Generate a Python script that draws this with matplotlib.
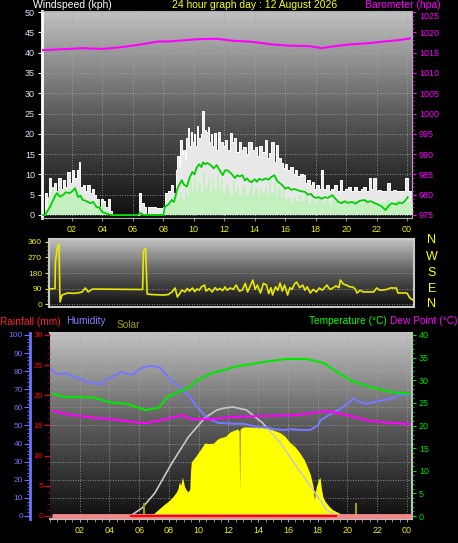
import numpy as np
import matplotlib.pyplot as plt
from matplotlib.colors import LinearSegmentedColormap
from matplotlib.ticker import MultipleLocator

plt.rcParams['font.family'] = ['Liberation Sans', 'DejaVu Sans']

# ---------------- data ----------------
hour_ticks = list(range(2, 25, 2))
hour_labels = ['02', '04', '06', '08', '10', '12', '14', '16', '18', '20', '22', '00']

# barometer (hPa)
baro_h = [0.05, 1.7, 2.7, 4.0, 5.15, 6.5, 7.6, 8.6, 9.55, 10.2, 11.5, 12.6, 13.7, 15.2, 16.3, 17.6, 18.4, 19.1, 20.2, 21.4, 22.4, 23.5, 24.2]
baro = [1015.6, 1015.9, 1016.1, 1015.9, 1016.3, 1017.0, 1017.7, 1017.8, 1018.1, 1018.3, 1018.4, 1017.9, 1017.7, 1017.0, 1016.7, 1016.6, 1016.1, 1016.5, 1017.0, 1017.3, 1017.7, 1018.1, 1018.5]

# wind gust (kph)
gust_h = [0.0, 0.2, 0.35, 0.5, 0.65, 0.8, 0.95, 1.1, 1.25, 1.4, 1.55, 1.7, 1.85, 2.0, 2.15, 2.3, 2.45, 2.55, 2.7, 2.85,
          3.0, 3.15, 3.3, 3.45, 3.6, 3.75, 3.9, 4.05, 4.2, 4.35, 4.5, 4.6, 6.3, 6.4, 6.55, 6.7, 6.85, 7.0, 7.5, 8.0,
          8.1, 8.3, 8.5, 8.65, 8.8, 8.9, 9.0, 9.1, 9.2, 9.3, 9.4, 9.5, 9.6, 9.7, 9.8, 9.9, 10.0, 10.1, 10.2, 10.3,
          10.45, 10.55, 10.65, 10.8, 10.9, 11.0, 11.1, 11.2, 11.3, 11.45, 11.6, 11.75, 11.9, 12.05, 12.2, 12.35, 12.5, 12.65, 12.8, 12.95,
          13.1, 13.25, 13.4, 13.55, 13.7, 13.85, 14.0, 14.15, 14.3, 14.5, 14.65, 14.8, 14.95, 15.1, 15.25, 15.4, 15.55, 15.7, 15.85, 16.0,
          16.15, 16.3, 16.5, 16.65, 16.8, 17.0, 17.15, 17.3, 17.45, 17.6, 17.75, 17.9, 18.05, 18.2, 18.35, 18.5, 18.7, 18.85, 19.0, 19.2,
          19.4, 19.6, 19.75, 19.95, 20.15, 20.35, 20.55, 20.75, 20.95, 21.1, 21.3, 21.5, 21.65, 21.8, 21.95, 22.1, 22.3, 22.5, 22.7, 22.9,
          23.1, 23.3, 23.5, 23.7, 23.9, 24.05, 24.4]
gust = [0, 5.5, 1, 9.2, 6, 8, 5.5, 9, 6.5, 8.5, 7, 10.5, 8, 11, 9, 11, 13, 7, 7.5, 6,
        7.5, 5.5, 6.5, 5, 4, 2, 4, 3.5, 2, 4, 1, 0, 0, 5.5, 3, 2, 0.3, 2, 1.8, 2,
        5.5, 6, 7.5, 5.5, 11, 14.5, 12, 18.5, 15, 16, 14, 19, 21.5, 17, 20.5, 18, 20, 17, 22, 19,
        20, 25.5, 21, 20.5, 21.7, 18, 20, 17, 20.2, 16, 20.4, 18, 17, 18.5, 16, 20.2, 18, 19, 15.5, 18,
        16, 16.8, 15, 18, 18, 16, 16.8, 14.5, 17, 15.5, 18.5, 14, 15.3, 18, 13, 17.2, 14, 12.8, 11.5, 12.5,
        11, 11.8, 10, 11, 9.5, 10, 9.8, 8, 8.5, 7.5, 8.1, 6.5, 7.5, 6.5, 11, 6.5, 7.4, 6, 6.5, 7.4,
        6, 8.6, 6, 6.5, 7, 5.8, 7, 5.8, 6.5, 7, 6, 9.1, 6.5, 9.1, 6, 6.2, 5.8, 6, 7.9, 6,
        6.2, 5.8, 6, 5.8, 9.1, 5.8, 5.8]

# wind speed (kph)
speed_h = [0.0, 0.2, 0.4, 0.55, 0.7, 0.85, 1.0, 1.15, 1.3, 1.45, 1.6, 1.75, 1.9, 2.05, 2.2, 2.35, 2.5, 2.65, 2.8, 2.95,
           3.1, 3.25, 3.4, 3.55, 3.7, 3.85, 4.0, 4.15, 4.3, 4.45, 6.4, 6.55, 8.1, 8.2, 8.35, 8.5, 8.65, 8.8, 8.95, 9.1,
           9.25, 9.4, 9.55, 9.7, 9.85, 10.0, 10.15, 10.3, 10.45, 10.6, 10.75, 10.9, 11.05, 11.2, 11.35, 11.5, 11.65, 11.8, 11.95, 12.1,
           12.25, 12.4, 12.55, 12.7, 12.85, 13.0, 13.15, 13.3, 13.45, 13.6, 13.75, 13.9, 14.05, 14.2, 14.35, 14.5, 14.65, 14.8, 14.95, 15.1,
           15.25, 15.4, 15.55, 15.7, 15.85, 16.0, 16.2, 16.35, 16.5, 16.7, 16.9, 17.1, 17.3, 17.5, 17.7, 17.9, 18.1, 18.3, 18.5, 18.7,
           18.9, 19.1, 19.3, 19.5, 19.7, 19.9, 20.1, 20.3, 20.5, 20.7, 20.9, 21.1, 21.3, 21.5, 21.7, 21.9, 22.1, 22.3, 22.5, 22.7,
           22.9, 23.1, 23.3, 23.5, 23.7, 23.9, 24.05, 24.4]
speed = [0, 1.2, 4.5, 2, 7, 4.5, 6, 7, 5, 6.5, 5.7, 6.5, 5, 6.6, 5, 6, 4.9, 3, 2.9, 3.7,
         1.5, 3.7, 2, 1.7, 3.7, 2, 3, 0.5, 1, 0, 1.2, 0, 1, 2, 3, 4.4, 3, 6.6, 4, 5.7,
         4, 7.4, 5, 9, 6, 9.4, 6, 8.1, 5.5, 10.6, 7, 9.1, 6, 9, 6.5, 10.3, 7, 8.6, 5.5, 8,
         6.6, 5, 8.6, 6, 7, 5, 6.6, 7.5, 5, 6.5, 7.9, 5, 6.6, 5, 7, 5.5, 6.6, 5, 8.1, 5.5,
         8, 5, 6.6, 4.5, 6.6, 4, 4.4, 3, 4.4, 3.5, 4.9, 3.5, 4.9, 3, 4.2, 3, 4.4, 3.7, 3, 3.7,
         2.5, 3.7, 3.2, 2.5, 3.2, 3, 3.7, 2.5, 3.7, 3.2, 2.5, 3.2, 3.7, 2.5, 3.2, 3, 2.5, 3.2, 3, 3.7,
         2.5, 3.2, 3.7, 2.5, 3.2, 3, 3.2, 3.2]

# average wind (kph)
avg_h = [0.0, 0.23, 0.56, 0.8, 1.0, 1.2, 1.4, 1.6, 1.87, 2.05, 2.2, 2.4, 2.55, 2.7, 2.9, 3.2, 3.4, 3.6, 3.8, 4.0,
         4.3, 4.6, 6.3, 6.5, 6.7, 8.0, 8.1, 8.3, 8.55, 8.7, 8.9, 9.05, 9.2, 9.35, 9.55, 9.7, 9.9, 10.05, 10.2, 10.35,
         10.5, 10.6, 10.75, 10.9, 11.1, 11.3, 11.5, 11.7, 11.9, 12.05, 12.2, 12.35, 12.5, 12.7, 12.85, 13.0, 13.2, 13.35, 13.5, 13.65,
         13.8, 14.0, 14.15, 14.3, 14.5, 14.7, 14.9, 15.1, 15.3, 15.45, 15.6, 15.8, 16.0, 16.2, 16.4, 16.6, 16.9, 17.1, 17.3, 17.5,
         17.7, 17.85, 18.0, 18.2, 18.4, 18.6, 18.8, 19.1, 19.3, 19.5, 19.7, 19.9, 20.1, 20.4, 20.6, 20.9, 21.2, 21.4, 21.6, 21.9,
         22.1, 22.3, 22.6, 22.8, 23.0, 23.3, 23.5, 23.7, 23.9, 24.05]
avg = [0, 0, 2, 4, 5.4, 4.5, 4.9, 5.6, 5.4, 6, 6.6, 4.4, 4.8, 3.7, 3.5, 2.9, 3.2, 2, 1.8, 0.7,
       0.3, 0, 0, 0.5, 0, 0, 2, 2.5, 3.7, 3.2, 6.2, 7.5, 8.6, 7.5, 7, 9, 10.6, 10, 11.8, 12.5,
       11.8, 13, 12.5, 12.8, 12.3, 11.5, 12.3, 11, 9.8, 11, 11, 10.6, 10, 9.1, 9.8, 9.5, 9.8, 8.5, 9, 8.3,
       8.1, 8.8, 8.2, 8.9, 8.6, 9, 8.7, 9.4, 9.8, 8.5, 8, 7.4, 6.5, 6.8, 6.2, 6.4, 6, 5.8, 5.7, 5,
       5.2, 4.5, 4.2, 4.4, 4.0, 4.4, 4.2, 4.9, 4, 3.2, 2.9, 3.4, 3, 3.2, 2.8, 3.5, 3.7, 3.2, 3.4, 2.9,
       2.6, 2.2, 1.2, 2.3, 2.9, 2.6, 3.1, 2.9, 3.6, 4.4]

# wind direction (degrees)
dir_h = [0.2, 0.6, 0.62, 0.75, 0.86, 0.93, 1.06, 1.3, 1.46, 1.8, 2.1, 2.4, 2.6, 2.8, 2.95, 3.1, 6.4, 6.45, 6.5, 6.6,
         6.7, 7.0, 7.75, 8.1, 8.35, 8.55, 8.7, 8.85, 9.0, 9.2, 9.35, 9.5, 9.7, 9.85, 10.0, 10.15, 10.3, 10.5, 10.6, 10.8,
         11.0, 11.2, 11.35, 11.5, 11.7, 11.85, 12.0, 12.2, 12.4, 12.6, 12.8, 13.0, 13.2, 13.35, 13.5, 13.7, 13.85, 14.0, 14.2, 14.4,
         14.6, 14.75, 14.9, 15.0, 15.2, 15.35, 15.5, 15.65, 15.8, 16.0, 16.15, 16.3, 16.45, 16.6, 16.8, 17.0, 17.15, 17.3, 17.5, 17.7,
         17.9, 18.1, 18.3, 18.6, 18.8, 19.0, 19.2, 19.4, 19.5, 19.7, 19.9, 20.1, 20.3, 20.45, 20.6, 20.8, 21.0, 21.4, 21.7, 21.9,
         22.1, 22.3, 22.6, 22.8, 23.2, 23.3, 23.9, 24.1, 24.3]
wdir = [87, 90, 244, 325, 350, 12, 52, 60, 64, 62, 64, 70, 93, 70, 80, 87, 84, 300, 314, 322,
        58, 55, 52, 55, 70, 93, 41, 60, 81, 70, 90, 75, 93, 72, 88, 80, 100, 110, 75, 90,
        70, 95, 80, 90, 78, 99, 80, 93, 85, 110, 75, 81, 120, 70, 100, 139, 85, 110, 64, 120,
        110, 60, 95, 52, 100, 80, 122, 75, 110, 52, 95, 85, 115, 128, 95, 110, 80, 100, 64, 85,
        70, 93, 80, 110, 85, 93, 105, 95, 139, 115, 110, 100, 99, 90, 64, 80, 70, 70, 70, 93,
        80, 81, 85, 93, 93, 64, 64, 35, 23]

# humidity (%)
hum_h = [0.1, 0.5, 1.0, 1.5, 2.0, 2.5, 3.0, 3.4, 3.7, 4.2, 4.8, 5.5, 6.2, 6.8, 7.4, 7.9, 8.3, 8.6, 9.3, 9.9,
         10.6, 11.3, 12.3, 13.0, 13.5, 14.0, 14.6, 15.0, 15.7, 16.2, 16.8, 17.5, 18.0, 18.2, 18.6, 19.0, 19.5, 20.0, 20.4, 20.8,
         21.3, 21.8, 22.4, 23.0, 23.5, 24.2]
hum = [81, 78, 79, 77, 76, 74, 73.5, 72.5, 75, 77, 79.6, 78, 82, 83, 82, 77, 74, 72, 67, 60,
       54, 51.5, 51, 51, 50, 49, 49, 48, 47.5, 48, 47.5, 47.5, 50, 53, 55, 57, 59, 62, 65, 63,
       62, 63, 64, 65, 67, 67]

# temperature and dew point (deg C)
temp_h = [0.2, 1.0, 2.1, 3.0, 4.2, 5.2, 6.4, 7.3, 7.9, 8.6, 9.3, 9.9, 10.9, 11.8, 12.4, 13.2, 14.3, 15.9, 17.3, 18.4,
          19.3, 20.2, 21.5, 22.9, 24.2]
temp = [27.0, 26.3, 26.3, 26.1, 25.0, 24.8, 23.4, 23.9, 26.3, 27.4, 28.3, 30.0, 31.6, 32.3, 33.0, 33.4, 34.0, 34.7, 34.7, 33.8,
        31.8, 30.0, 28.5, 27.4, 27.0]
dew_h = [0.2, 1.5, 3.0, 4.6, 6.4, 7.5, 8.9, 9.5, 10.9, 12.2, 14.3, 16.6, 18.6, 20.0, 21.5, 22.9, 24.2]
dew = [23.2, 22.3, 21.7, 21.2, 20.5, 21.2, 22.3, 21.4, 21.4, 21.9, 22.1, 22.3, 23.2, 22.3, 21.0, 20.6, 20.3]

# solar radiation (W/m2) and clear sky maximum
solar_h = [0, 6.2, 6.6, 7.0, 7.4, 7.7, 8.05, 8.3, 8.5, 8.6, 8.7, 8.8, 8.9, 9.0, 9.05, 9.2, 9.3, 9.4, 9.45, 9.5,
           9.8, 10.1, 10.4, 10.7, 11.0, 11.2, 11.4, 11.8, 12.1, 12.4, 12.6, 12.72, 12.75, 12.78, 13.0, 13.3, 13.6, 14.0, 14.6, 15.0,
           15.5, 15.8, 16.1, 16.5, 16.8, 17.1, 17.3, 17.5, 17.7, 17.78, 17.82, 17.9, 18.05, 18.15, 18.25, 18.35, 18.5, 18.8, 19.0, 19.3,
           19.6, 20.0, 24.3]
solar = [0, 0, 5, 15, 44, 65, 88, 110, 133, 150, 188, 170, 215, 180, 160, 140, 133, 150, 250, 298,
         330, 365, 403, 400, 403, 420, 431, 440, 464, 475, 480, 470, 144, 480, 492, 492, 490, 492, 486, 475,
         459, 440, 409, 380, 348, 310, 271, 230, 160, 88, 120, 160, 200, 215, 150, 105, 80, 50, 35, 22,
         10, 0, 0]
clear_h = [5.4, 6.2, 7.05, 8.2, 9.3, 10.4, 11.2, 11.75, 12.3, 13.2, 14.3, 15.5, 16.6, 17.7, 18.6, 19.3]
clear = [0, 45, 127, 293, 436, 541, 585, 597, 602, 586, 514, 403, 271, 144, 33, 0]
marker_h = [6.3, 20.55]
marker = [83, 83]

# rainfall (mm)
rain_h = [0.15, 24.3]
rain = [0.0, 0.0]

# ---------------- layout ----------------
W, H = 458, 543
PT = 72 / 100   # points per pixel at dpi 100


def rect(l, t, r, b):
    return [l / W, 1 - b / H, (r - l) / W, (b - t) / H]


grad = LinearSegmentedColormap.from_list('bg', ['#0e0e0e', '#5a5a5a', '#c2c2c2'])
grid_kw = dict(color='#a8a8a8', linestyle=(0, (1, 2)), linewidth=0.6)
yellow = '#f0f000'


def background(ax):
    ax.imshow(np.linspace(0, 1, 256).reshape(-1, 1), cmap=grad, aspect='auto',
              extent=[0, 1, 0, 1], transform=ax.transAxes, origin='lower', zorder=0)


fig = plt.figure(figsize=(W / 100, H / 100), dpi=100, facecolor='black')

# ---- top panel : wind + barometer ----
ax1 = fig.add_axes(rect(42, 11, 412, 218))
background(ax1)
ax1.fill_between(gust_h, 0, gust, step='post', color='#e8e8e8', lw=0, zorder=2)
ax1.step(gust_h, gust, where='post', color='white', lw=0.7, zorder=2)
ax1.fill_between(speed_h, 0, speed, step='post', color='#c4f0c0', lw=0, zorder=3)
ax1.plot(avg_h, avg, color='#00d000', lw=1.3, zorder=4)
ax1.set_xlim(0.03, 24.33)
ax1.set_ylim(-0.74, 50.25)
ax1.set_xticks(hour_ticks)
ax1.set_xticklabels(hour_labels)
ax1.set_yticks(range(0, 51, 5))
ax1.set_axisbelow(True)
ax1.grid(True, **grid_kw)
ax1.tick_params(axis='x', colors='#909090', labelcolor=yellow, labelsize=6.5, length=2, pad=3)
ax1.tick_params(axis='y', colors='white', labelcolor='#dce6ff', labelsize=6.5, length=3, pad=2)
for s in ax1.spines.values():
    s.set_color('#b0b0b0')
ax1.spines['left'].set_color('white')
ax1.spines['left'].set_linewidth(2)

ax1b = ax1.twinx()
ax1b.plot(baro_h, baro, color='#ff00ff', lw=1.5, zorder=5)
ax1b.set_ylim(975 - 0.74, 975 + 50.25)
ax1b.set_yticks(range(975, 1026, 5))
ax1b.yaxis.set_minor_locator(MultipleLocator(1))
ax1b.tick_params(axis='y', which='both', colors='#ff00ff', labelsize=6.5, length=3, pad=2)
ax1b.tick_params(axis='y', which='minor', length=1.5)
for s in ax1b.spines.values():
    s.set_visible(False)
# keep the top tick label a little lower so it clears the header
ax1b.get_yticklabels()[-1].set_va('top')

fig.text(33 / W, 1 - 5 / H, 'Windspeed (kph)', color='white', fontsize=7.5, va='center', ha='left')
fig.text(255 / W, 1 - 5 / H, '24 hour graph day : 12 August 2026', color='#ffff00', fontsize=7.5, va='center', ha='center')
fig.text(441 / W, 1 - 5 / H, 'Barometer (hpa)', color='#ff00ff', fontsize=7.5, va='center', ha='right')

# ---- middle panel : wind direction ----
ax2 = fig.add_axes(rect(49, 239, 414, 307))
background(ax2)
ax2.plot(dir_h, wdir, color='#e8e800', lw=1.2, zorder=3)
ax2.set_xlim(0.2, 24.37)
ax2.set_ylim(-17.4, 377.4)
ax2.set_yticks([0, 90, 180, 270, 360])
ax2.yaxis.set_minor_locator(MultipleLocator(22.5))
ax2.set_xticks([])
ax2.set_axisbelow(True)
ax2.grid(True, axis='y', **grid_kw)
ax2.tick_params(axis='y', which='both', colors=yellow, labelsize=6, length=3, pad=2)
ax2.tick_params(axis='y', which='minor', length=1.5)
for s in ax2.spines.values():
    s.set_color('#c8c8c8')
    s.set_linewidth(1.5)
for lab, yy in zip(['N', 'W', 'S', 'E', 'N'], [240, 257, 273, 289, 304]):
    fig.text(432 / W, 1 - yy / H, lab, color='#ffff00', fontsize=9, ha='center', va='center')

# ---- bottom panel : humidity, rain, solar, temperature ----
ax3 = fig.add_axes(rect(50, 333, 412, 519))
background(ax3)
ax3.set_xlim(0.0, 24.34)
ax3.set_ylim(-1.66, 101.1)
ax3.set_xticks(hour_ticks)
ax3.set_xticklabels(hour_labels)
ax3.xaxis.set_minor_locator(MultipleLocator(0.5))
ax3.set_yticks(range(0, 101, 10))
ax3.yaxis.set_minor_locator(MultipleLocator(2))
ax3.set_axisbelow(True)
ax3.grid(True, which='major', **grid_kw)
ax3.tick_params(axis='x', which='both', colors='#a0a0a0', labelcolor=yellow, labelsize=6.5, length=2, pad=3)
ax3.tick_params(axis='y', which='both', colors='#7070ff', labelsize=6, length=4, pad=1)
ax3.tick_params(axis='y', which='minor', length=2)
for s in ax3.spines.values():
    s.set_color('#c0c0c0')
    s.set_linewidth(1.5)
ax3.spines['left'].set_position(('outward', 20 * PT))
ax3.spines['left'].set_color('#7070ff')
ax3.spines['left'].set_linewidth(2)

ax3s = ax3.twinx()
ax3s.fill_between(solar_h, 0, solar, color='#ffff00', lw=0, zorder=2)
ax3s.plot(clear_h, clear, color='#c8c8c8', lw=1.2, zorder=3)
ax3s.bar(marker_h, marker, width=0.12, bottom=-10, color='#a0a000', zorder=3)
ax3s.set_ylim(-16.6, 1011)
ax3s.axis('off')

ax3r = ax3.twinx()
ax3r.plot(rain_h, rain, color='#f08888', lw=3.5, zorder=2, solid_capstyle='butt')
ax3r.plot([clear_h[0], clear_h[-1]], rain, color='#ff0000', lw=1.5, zorder=3, solid_capstyle='butt')
ax3r.set_ylim(-0.5, 30.33)
ax3r.yaxis.tick_left()
ax3r.set_yticks(range(0, 31, 5))
ax3r.yaxis.set_minor_locator(MultipleLocator(1))
ax3r.tick_params(axis='y', which='both', colors='#ff0000', labelsize=6, length=4, pad=1)
ax3r.tick_params(axis='y', which='minor', colors='#900000', length=2)
for s in ax3r.spines.values():
    s.set_visible(False)

ax3t = ax3.twinx()
ax3t.plot(hum_h, [h * 0.4 for h in hum], color='#7878ff', lw=1.5, zorder=3)
ax3t.plot(dew_h, dew, color='#ff00ff', lw=1.5, zorder=3)
ax3t.plot(temp_h, temp, color='#00e800', lw=1.5, zorder=4)
ax3t.set_ylim(-0.66, 40.44)
ax3t.set_yticks(range(0, 41, 5))
ax3t.yaxis.set_minor_locator(MultipleLocator(1))
ax3t.tick_params(axis='y', which='both', colors='#00e000', labelsize=6.5, length=3, pad=2)
ax3t.tick_params(axis='y', which='minor', length=1.5)
for s in ax3t.spines.values():
    s.set_visible(False)

fig.text(0, 1 - 322 / H, 'Rainfall (mm)', color='#ff2020', fontsize=7.3, va='center', ha='left')
fig.text(66 / W, 1 - 321 / H, 'Humidity', color='#8080ff', fontsize=7.3, va='center', ha='left')
fig.text(117 / W, 1 - 325 / H, 'Solar', color='#a0a000', fontsize=7.3, va='center', ha='left')
fig.text(387 / W, 1 - 321 / H, 'Temperature (°C)', color='#00ff00', fontsize=7.3, va='center', ha='right')
fig.text(457 / W, 1 - 321 / H, 'Dew Point (°C)', color='#ff00ff', fontsize=7.3, va='center', ha='right')

fig.savefig('out.png', dpi=100, facecolor='black')
